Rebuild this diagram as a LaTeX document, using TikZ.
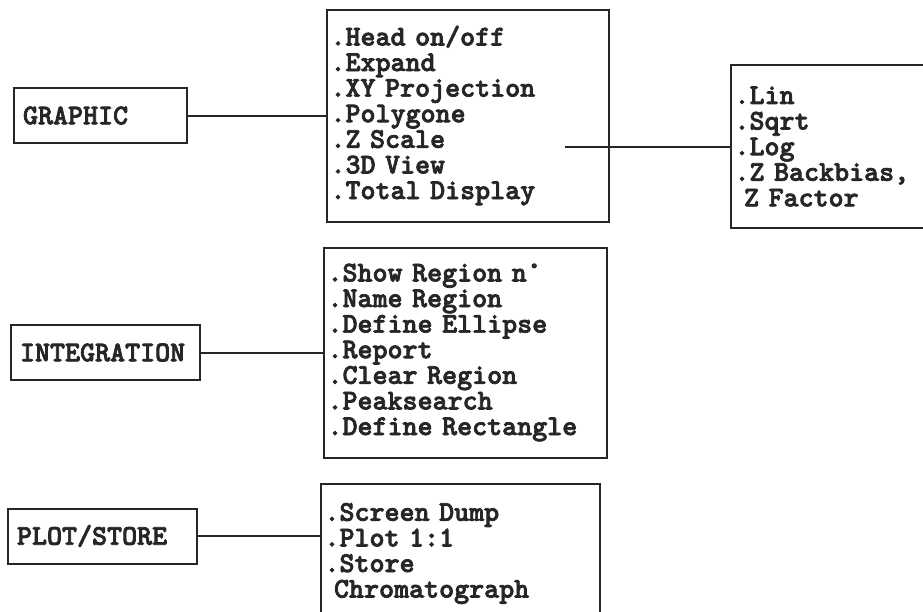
\documentclass[tikz,border=0pt]{standalone}
\usepackage{fontspec}
\newfontfamily\menufont{lmmonolt10-bold.otf}[FakeBold=2.5]
\usetikzlibrary{positioning}

\begin{document}
\begin{tikzpicture}[
  x=1pt, y=-1pt,
  every node/.style={font=\fontsize{28.6pt}{25.6pt}\menufont, text=black!85},
  topic/.style={rectangle, draw=black!85, line width=2pt, minimum height=55pt, inner xsep=9pt, align=left, anchor=west},
  menu/.style={rectangle, draw=black!85, line width=2pt, inner xsep=3.5pt, align=left},
  link/.style={draw=black!85, line width=2pt}
]
  \clip (0,0) rectangle (923,611);
  % Main functions
  \node[topic, text width=155pt] (graphic) at (13,115.5) {GRAPHIC};
  \node[topic, text width=171pt] (integ) at (10,352.5) {INTEGRATION};
  \node[topic, text width=171pt] (plot) at (7,536) {PLOT/STORE};
  % Sub menus
  \node[menu, text width=275pt, minimum height=212pt, right=138pt of graphic] (gmenu)
    {.Head on/off\\.Expand\\.XY Projection\\.Polygone\\.Z Scale\\.3D View\\.Total Display};
  \node[menu, text width=276pt, minimum height=210pt, right=122pt of integ] (imenu)
    {.Show Region n°\\.Name Region\\.Define Ellipse\\.Report\\.Clear Region\\.Peaksearch\\.Define Rectangle};
  \node[menu, text width=272pt, inner ysep=19pt, anchor=north west] (pmenu) at (320,483)
    {.Screen Dump\\.Plot 1:1\\.Store\\~Chromatograph};
  % Z scale options
  \node[menu, text width=223pt, minimum height=163pt, anchor=west] (zmenu) at (730,146.5)
    {.Lin\\.Sqrt\\.Log\\.Z Backbias,\\~Z Factor};
  \coordinate (zscale) at (565,146.5);
  % Links
  \draw[link] (graphic) -- (gmenu);
  \draw[link] (integ) -- (imenu);
  \draw[link] (plot.east) -- (plot.east -| pmenu.west);
  \draw[link] (zscale) -- (zmenu.west);
\end{tikzpicture}
\end{document}
